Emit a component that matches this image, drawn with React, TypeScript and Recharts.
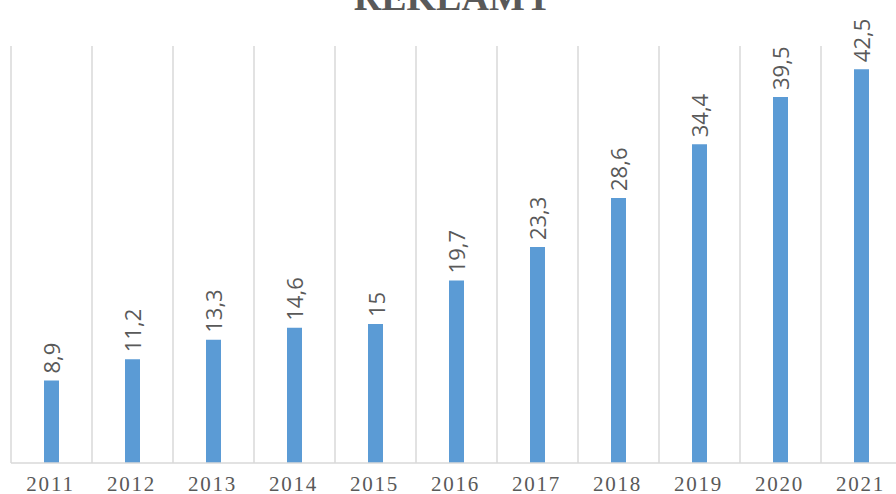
import React from "react";
import { BarChart, Bar, XAxis, YAxis, CartesianGrid, LabelList } from "recharts";

const years = ["2011", "2012", "2013", "2014", "2015", "2016", "2017", "2018", "2019", "2020", "2021"];
const values = [8.9, 11.2, 13.3, 14.6, 15, 19.7, 23.3, 28.6, 34.4, 39.5, 42.5];
const title = "REKLAMY";

const data = years.map((y, i) => ({ year: y, value: values[i] }));

const fmt = (v: number) => String(v).replace(".", ",");

const RotLabel = (props: any) => {
  const { x, y, width, value } = props;
  const cx = x + width / 2;
  const cy = y - 7;
  return (
    <text
      x={cx}
      y={cy}
      transform={`rotate(-90 ${cx} ${cy})`}
      textAnchor="start"
      dominantBaseline="central"
      fill="#595959"
      fontSize={22}
      fontFamily="'Open Sans', sans-serif"
    >
      {fmt(value)}
    </text>
  );
};

const Tick = (props: any) => {
  const { x, payload } = props;
  return (
    <text
      x={x - 1}
      y={491}
      textAnchor="middle"
      fill="#595959"
      fontSize={21}
      letterSpacing={1.8}
      fontFamily="'Liberation Serif', serif"
    >
      {payload.value}
    </text>
  );
};

export default function App() {
  return (
    <div style={{ position: "absolute", left: 0, top: 0, width: 896, height: 494, overflow: "hidden", background: "#fff" }}>
      <BarChart width={920} height={494} data={data} margin={{ top: 46, right: 18, bottom: 0, left: 11 }}>
        <text
          x={453}
          y={10}
          textAnchor="middle"
          fill="#595959"
          fontSize={38}
          fontWeight="bold"
          fontFamily="'Liberation Serif', serif"
        >
          {title}
        </text>
        <CartesianGrid
          horizontal={false}
          stroke="#d9d9d9"
          strokeWidth={1.5}
          verticalCoordinatesGenerator={({ offset }: any) =>
            years.map((_, i) => offset.left + (i * offset.width) / years.length).concat([offset.left + offset.width])
          }
        />
        <XAxis
          dataKey="year"
          height={31}
          tickLine={false}
          axisLine={{ stroke: "#d9d9d9", strokeWidth: 1.5 }}
          tick={<Tick />}
          interval={0}
        />
        <YAxis hide domain={[0, 45]} />
        <Bar dataKey="value" fill="#5B9BD5" barSize={15} isAnimationActive={false}>
          <LabelList dataKey="value" content={<RotLabel />} />
        </Bar>
      </BarChart>
    </div>
  );
}
